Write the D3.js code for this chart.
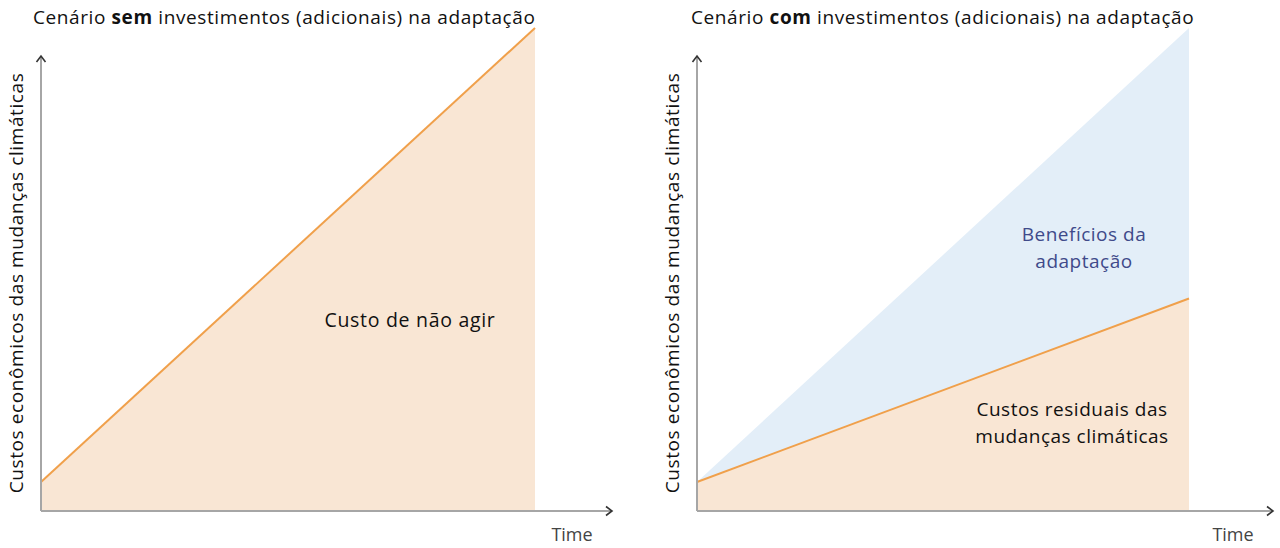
<!DOCTYPE html>
<html><head><meta charset="utf-8">
<script src="https://cdn.jsdelivr.net/npm/d3@7"></script>
<style>body{margin:0;background:#fff}svg{display:block}text{font-family:"Open Sans","Noto Sans",sans-serif}</style>
</head><body><svg id="c" width="1280" height="548"></svg>
<script>
// Conceptual data (time 0..100, cost 0..100)
const timePoints = [0, 100];
const costNoAction = [6, 100];        // left panel: cost of not acting
const costWithoutAdapt = [6, 100];    // right panel: upper (benefit) edge
const residualCosts = [6, 44];        // right panel: residual costs
const titlesPre = ["Cenário ", "Cenário "];
const titlesBold = ["sem", "com"];
const titlesPost = [" investimentos (adicionais) na adaptação", " investimentos (adicionais) na adaptação"];
const yLabel = "Custos econômicos das mudanças climáticas";
const xLabel = "Time";

const svg = d3.select("#c");
const orange = "#F0A04B", peach = "#F9E6D4", blue = "#E3EEF8";

const panels = [
  {x0: 41, x1: 535, axEnd: 612, titleX: 33},
  {x0: 697, x1: 1189, axEnd: 1273, titleX: 691}
];
const y = d3.scaleLinear().domain([0, 100]).range([511, 28]);

panels.forEach((p, i) => {
  const g = svg.append("g");
  const x = d3.scaleLinear().domain([0, 100]).range([p.x0, p.x1]);
  const area = (top) => d3.area().x((d, j) => x(timePoints[j])).y0(y(0)).y1((d) => y(d))(top);
  const line = (vals) => d3.line().x((d, j) => x(timePoints[j])).y(d => y(d))(vals);

  if (i === 0) {
    g.append("path").attr("d", area(costNoAction)).attr("fill", peach);
    g.append("path").attr("d", line(costNoAction)).attr("fill", "none").attr("stroke", orange).attr("stroke-width", 2);
  } else {
    g.append("path").attr("d", area(costWithoutAdapt)).attr("fill", blue);
    g.append("path").attr("d", area(residualCosts)).attr("fill", peach);
    g.append("path").attr("d", line(residualCosts)).attr("fill", "none").attr("stroke", orange).attr("stroke-width", 2);
  }

  // axes
  const ax = g.append("g");
  ax.append("line").attr("x1", p.x0).attr("x2", p.x0).attr("y1", y(0)).attr("y2", 56)
    .attr("stroke", "#a6a6a6").attr("stroke-width", 2);
  ax.append("line").attr("x1", p.x0).attr("x2", p.axEnd).attr("y1", y(0)).attr("y2", y(0))
    .attr("stroke", "#a6a6a6").attr("stroke-width", 2);
  ax.append("path").attr("d", `M${p.x0-4.5},${62} L${p.x0},${56} L${p.x0+4.5},${62}`)
    .attr("fill", "none").attr("stroke", "#333").attr("stroke-width", 1.6);
  ax.append("path").attr("d", `M${p.axEnd-6},${y(0)-4.5} L${p.axEnd},${y(0)} L${p.axEnd-6},${y(0)+4.5}`)
    .attr("fill", "none").attr("stroke", "#333").attr("stroke-width", 1.6);

  // title
  const t = g.append("text").attr("x", p.titleX).attr("y", 24).attr("font-size", 19)
    .attr("letter-spacing", 0.6).attr("fill", "#111");
  t.append("tspan").text(titlesPre[i]);
  t.append("tspan").attr("font-weight", "bold").text(titlesBold[i]);
  t.append("tspan").text(titlesPost[i]);

  // y label
  g.append("text").attr("transform", `translate(${p.x0 - 18},${283}) rotate(-90)`)
    .attr("text-anchor", "middle").attr("font-size", 19).attr("letter-spacing", 0.6)
    .attr("fill", "#111").text(yLabel);
  // x label
  g.append("text").attr("x", p.axEnd - 40).attr("y", 541).attr("text-anchor", "middle")
    .attr("font-size", 18).attr("fill", "#444").text(xLabel);
});

// annotations
svg.append("text").attr("x", 410).attr("y", 327).attr("text-anchor", "middle").attr("font-size", 19.5)
  .attr("letter-spacing", 0.7).attr("fill", "#111").text("Custo de não agir");
const b = svg.append("text").attr("text-anchor", "middle").attr("font-size", 19).attr("letter-spacing", 0.5).attr("fill", "#3F4A8A");
b.append("tspan").attr("x", 1084).attr("y", 241).text("Benefícios da");
b.append("tspan").attr("x", 1084).attr("y", 268).text("adaptação");
const r = svg.append("text").attr("text-anchor", "middle").attr("font-size", 19).attr("letter-spacing", 0.5).attr("fill", "#111");
r.append("tspan").attr("x", 1072).attr("y", 416).text("Custos residuais das");
r.append("tspan").attr("x", 1072).attr("y", 443).text("mudanças climáticas");
</script></body></html>
